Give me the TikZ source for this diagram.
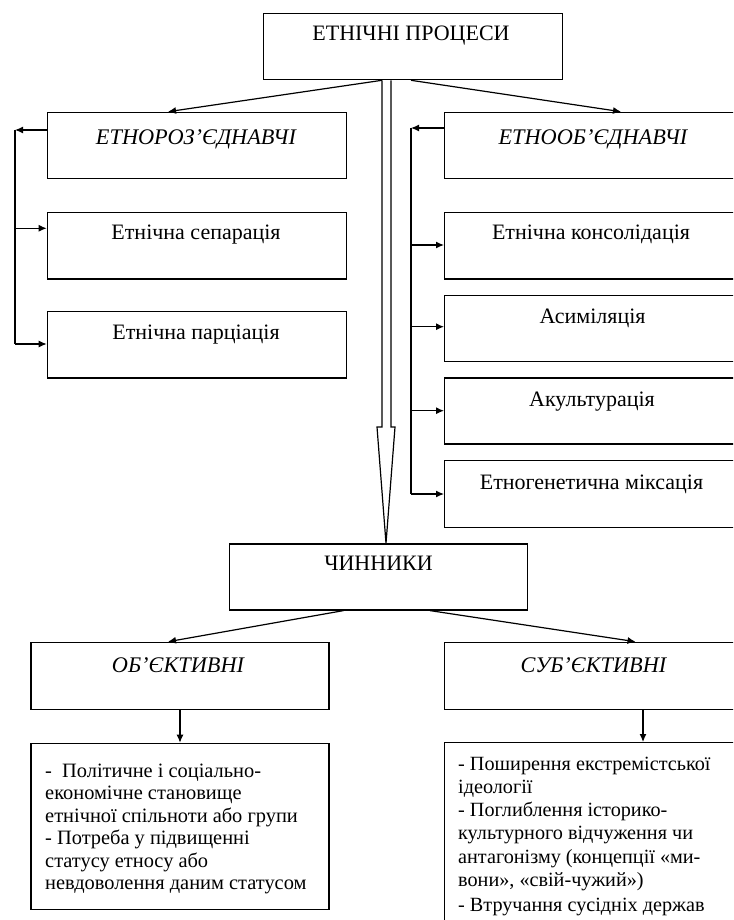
\documentclass[tikz,border=0pt]{standalone}
\usepackage{fontspec}
\setmainfont{Liberation Serif}
\usetikzlibrary{arrows.meta}
\begin{document}
\begin{tikzpicture}[x=1pt,y=-1pt,
  bx/.style={draw, line width=1.3pt, rectangle, inner sep=0pt, anchor=north west, minimum width=298pt, minimum height=66.5pt},
  lbl/.style={font=\fontsize{22}{26}\selectfont, inner sep=0pt, anchor=base},
  ilbl/.style={font=\fontsize{22.3}{26}\selectfont\itshape, inner sep=0pt, anchor=base},
  arr/.style={line width=1.2pt, -{Latex[length=8pt,width=7pt]}},
  ln/.style={line width=1.2pt},
  body/.style={align=left, inner sep=0pt, anchor=north west}
]
\useasboundingbox (0,0) rectangle (733,920);
\clip (0,0) rectangle (733,920);

% boxes
\node[bx, minimum width=299pt, minimum height=66.3pt] (top) at (262.7,12.7) {};
\node[bx, minimum width=299pt] (roz) at (46.7,111.7) {};
\node[bx] (obd) at (444,111.7) {};
\node[bx, minimum width=299pt] (sep) at (46.7,211.7) {};
\node[bx, minimum width=299pt] (par) at (46.7,310.7) {};
\node[bx] (kon) at (444,211.7) {};
\node[bx, minimum height=65.7pt] (asy) at (444,295) {};
\node[bx, minimum height=66pt] (aku) at (444,377.3) {};
\node[bx, minimum height=66.7pt] (mik) at (444,460) {};
\node[bx, minimum height=66pt] (chyn) at (229,543.3) {};
\node[bx, minimum height=67.3pt] (obj) at (30.4,641.7) {};
\node[bx, minimum height=67.3pt] (sub) at (444,641.7) {};
\node[bx, minimum height=166pt] (bl) at (30.4,742.7) {};
\node[bx, minimum height=200pt] (br) at (444,742) {};

% labels
\node[lbl] (ttop) at (411,40.8) {ЕТНІЧНІ ПРОЦЕСИ};
\node[ilbl] (troz) at (196,144.3) {ЕТНОРОЗ’ЄДНАВЧІ};
\node[ilbl] (tobd) at (593,144.3) {ЕТНООБ’ЄДНАВЧІ};
\node[lbl] (tsep) at (196,239.8) {Етнічна сепарація};
\node[lbl] (tpar) at (196,339.8) {Етнічна парціація};
\node[lbl] (tkon) at (591,239.8) {Етнічна консолідація};
\node[lbl] (tasy) at (592.5,323.3) {Асиміляція};
\node[lbl] (taku) at (592,406.8) {Акультурація};
\node[lbl] (tmik) at (591.5,489.8) {Етногенетична міксація};
\node[lbl] (tchyn) at (378.5,570.8) {ЧИННИКИ};
\node[ilbl] (tobj) at (178,672.3) {ОБ’ЄКТИВНІ};
\node[ilbl] (tsub) at (593.5,672.3) {СУБ’ЄКТИВНІ};

\node[body, font=\fontsize{20.4}{22.5}\selectfont] (tbl) at (45,763.5) {-\ \ Політичне і соціально-\\економічне становище\\етнічної спільноти або групи\\- Потреба у підвищенні\\статусу етносу або\\невдоволення даним статусом};
\node[body, font=\fontsize{20.2}{23.3}\selectfont] (tbr) at (458,756.5) {- Поширення екстремістської\\ідеології\\- Поглиблення історико-\\культурного відчуження чи\\антагонізму (концепції «ми-\\вони», «свій-чужий»)\\[1.5pt]- Втручання сусідніх держав};

% connectors from the top
\draw[arr] (top.south -| 382,0) -- (roz.north -| 168,0);
\draw[arr] (top.south -| 411,0) -- (obd.north -| 621,0);

% left bracket
\coordinate (la) at (15,130);
\coordinate (lb) at (15,228.3);
\coordinate (lc) at (15,344);
\draw[arr] (roz.west |- la) -- (la);
\draw[ln] (la) -- (lc);
\draw[arr] (lb) -- (lb -| sep.west);
\draw[arr] (lc) -- (lc -| par.west);

% right bracket
\coordinate (ra) at (411,128);
\coordinate (rb) at (411,245);
\coordinate (rc) at (411,326.7);
\coordinate (rd) at (411,410.7);
\coordinate (re) at (411,494);
\draw[arr] (obd.west |- ra) -- (ra);
\draw[ln] (ra) -- (re);
\draw[arr] (rb) -- (rb -| kon.west);
\draw[arr] (rc) -- (rc -| asy.west);
\draw[arr] (rd) -- (rd -| aku.west);
\draw[arr] (re) -- (re -| mik.west);

% big hollow arrow
\draw[line width=1.2pt, fill=white, line join=miter]
  (top.south -| 382,0) -- (382,427) -- (377,427) -- (chyn.north -| 386,0)
  -- (395,427) -- (391,427) -- (top.south -| 391,0);

% factors
\draw[arr] (chyn.south -| 343.5,0) -- (obj.north -| 168,0);
\draw[arr] (chyn.south -| 430,0) -- (sub.north -| 635.5,0);
\draw[arr] (obj.south -| 180,0) -- (bl.north -| 180,0);
\draw[arr] (sub.south -| 643,0) -- (br.north -| 643,0);
\end{tikzpicture}
\end{document}
